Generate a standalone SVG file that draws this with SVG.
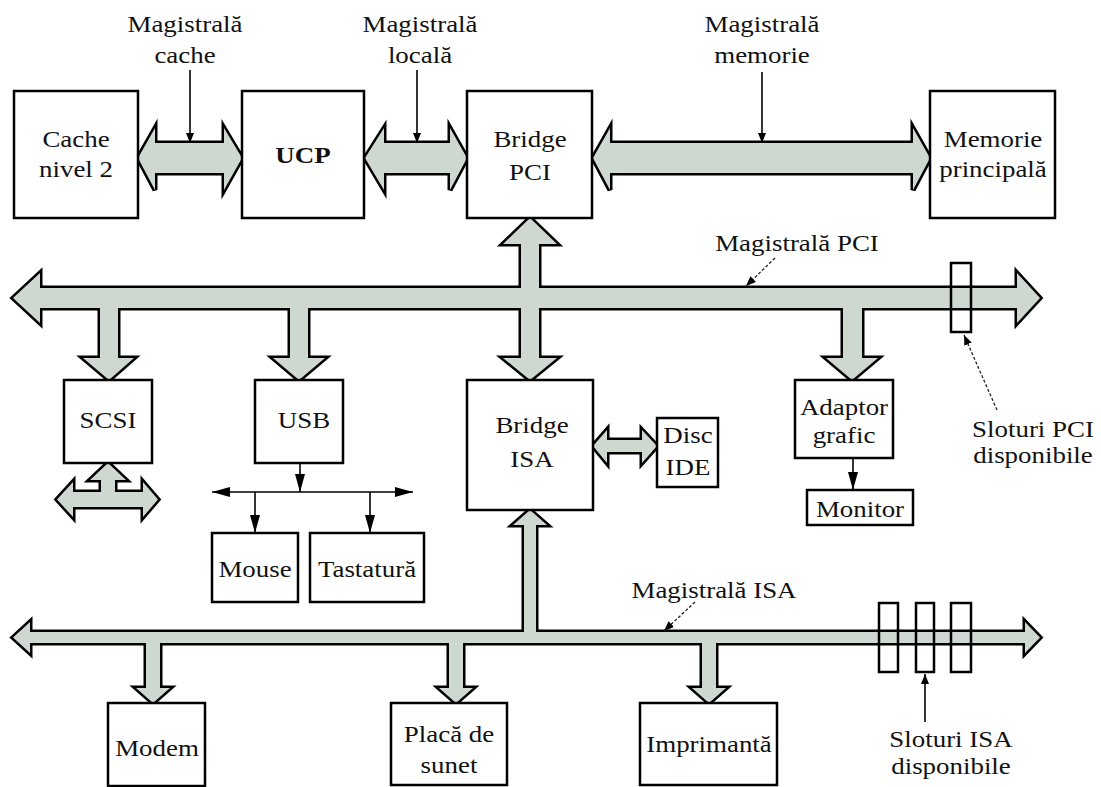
<svg xmlns="http://www.w3.org/2000/svg" xmlns:xlink="http://www.w3.org/1999/xlink" width="1101" height="787" viewBox="0 0 1101 787">
<style>
.box{fill:#fff;stroke:#000;stroke-width:2.5}
.slot{fill:none;stroke:#000;stroke-width:2.5}
.t{font-family:"Liberation Serif","Times New Roman",serif;font-size:23px;fill:#111;text-anchor:middle}
.b{font-weight:bold}
.under{fill:#000;stroke:#000;stroke-width:5;stroke-linejoin:miter}
.over{fill:#cfd8d0;stroke:none}
.ptr{stroke:#000;stroke-width:1.6;fill:none}
.dash{stroke:#222;stroke-width:1.3;fill:none;stroke-dasharray:3 2}
</style>
<defs>
<marker id="ah" viewBox="0 0 10 8" refX="10" refY="4" markerWidth="10" markerHeight="8" orient="auto" markerUnits="userSpaceOnUse"><path d="M0,0 L10,4 L0,8 z" fill="#000"/></marker>
<marker id="ah2" viewBox="0 0 18 10" refX="18" refY="5" markerWidth="18" markerHeight="10" orient="auto-start-reverse" markerUnits="userSpaceOnUse"><path d="M0,0 L18,5 L0,10 z" fill="#000"/></marker>
<path id="busCache" d="M138,158 L155,128 L155,143 L224,143 L224,128 L242,158 L224,190 L224,173 L155,173 L155,190 Z"/>
<path id="busLocal" d="M365,158 L384,128 L384,143 L450,143 L450,128 L467,158 L450,190 L450,173 L384,173 L384,190 Z"/>
<path id="busMem" d="M593,158 L610,128 L610,143 L913,143 L913,128 L930,158 L913,190 L913,173 L610,173 L610,190 Z"/>
<path id="busPCI" d="M13,298 L40,273 L40,288 L1017,288 L1017,273 L1040,298 L1017,323 L1017,308 L40,308 L40,323 Z
 M100,298 L118,298 L118,358 L134,358 L109,380 L83,358 L100,358 Z
 M290,298 L308,298 L308,358 L325,358 L299,380 L273,358 L290,358 Z
 M530,218 L557,244 L539,244 L539,358 L557,358 L530,380 L503,358 L521,358 L521,244 L503,244 Z
 M843,298 L862,298 L862,358 L878,358 L852,380 L826,358 L843,358 Z"/>
<path id="busISA" d="M13,637.5 L30,622 L30,632 L1025,632 L1025,622 L1040,637.5 L1025,653 L1025,643 L30,643 L30,653 Z
 M530,510 L547,525 L536,525 L536,637 L524,637 L524,525 L513,525 Z
 M146,637 L160,637 L160,688 L170,688 L153,703 L136,688 L146,688 Z
 M449,637 L463,637 L463,688 L473,688 L456,703 L439,688 L449,688 Z
 M702,637 L716,637 L716,688 L726,688 L709,703 L692,688 L702,688 Z"/>
<path id="busSCSI" d="M57,499.5 L73,482 L73,492 L143,492 L143,482 L158,499.5 L143,517 L143,507 L73,507 L73,517 Z
 M108,463 L126,480 L115,480 L115,499 L101,499 L101,480 L90,480 Z"/>
<path id="busIDE" d="M593,446 L607,430 L607,440 L642,440 L642,430 L657,446 L642,463 L642,452 L607,452 L607,463 Z"/>
</defs>
<rect width="1101" height="787" fill="#fff"/>
<g id="connectors">
<g id="bus-outlines" class="under">
<use xlink:href="#busCache"/><use xlink:href="#busLocal"/><use xlink:href="#busMem"/><use xlink:href="#busPCI"/><use xlink:href="#busISA"/><use xlink:href="#busSCSI"/><use xlink:href="#busIDE"/>
</g>
<g id="bus-fills" class="over">
<use xlink:href="#busCache"/><use xlink:href="#busLocal"/><use xlink:href="#busMem"/><use xlink:href="#busPCI"/><use xlink:href="#busISA"/><use xlink:href="#busSCSI"/><use xlink:href="#busIDE"/>
</g>
<line class="ptr" x1="190" y1="70" x2="190" y2="143" marker-end="url(#ah)"/>
<line class="ptr" x1="417" y1="70" x2="417" y2="143" marker-end="url(#ah)"/>
<line class="ptr" x1="762" y1="72" x2="762" y2="143" marker-end="url(#ah)"/>
<line class="dash" x1="775" y1="258" x2="746" y2="286" marker-end="url(#ah)"/>
<line class="dash" x1="695" y1="602" x2="664" y2="631" marker-end="url(#ah)"/>
<line class="dash" x1="997" y1="410" x2="964" y2="335" marker-end="url(#ah)"/>
<line class="ptr" x1="925" y1="722" x2="925" y2="674" marker-end="url(#ah)"/>
<line class="ptr" x1="853" y1="458" x2="853" y2="490" marker-end="url(#ah2)"/>
<line class="ptr" x1="300" y1="463" x2="300" y2="492" marker-end="url(#ah2)"/>
<line class="ptr" x1="212" y1="492" x2="413" y2="492" marker-start="url(#ah2)" marker-end="url(#ah2)"/>
<line class="ptr" x1="255" y1="492" x2="255" y2="533" marker-end="url(#ah2)"/>
<line class="ptr" x1="370" y1="492" x2="370" y2="533" marker-end="url(#ah2)"/>
</g>
<g id="slots-pci"><rect class="slot" x="951" y="263" width="20" height="69"/></g>
<g id="slots-isa">
<rect class="slot" x="879" y="603" width="19" height="69"/>
<rect class="slot" x="916" y="603" width="18" height="69"/>
<rect class="slot" x="951" y="603" width="20" height="69"/>
</g>
<g id="labels">
<text class="t" transform="translate(185,32) scale(1.17,1)"><tspan x="0">Magistrală</tspan><tspan x="0" dy="31">cache</tspan></text>
<text class="t" transform="translate(420,32) scale(1.17,1)"><tspan x="0">Magistrală</tspan><tspan x="0" dy="31">locală</tspan></text>
<text class="t" transform="translate(762,32) scale(1.17,1)"><tspan x="0">Magistrală</tspan><tspan x="0" dy="31">memorie</tspan></text>
<text class="t" transform="translate(797,251) scale(1.17,1)">Magistrală PCI</text>
<text class="t" transform="translate(714,598) scale(1.17,1)">Magistrală ISA</text>
<text class="t" transform="translate(1033,437) scale(1.17,1)"><tspan x="0">Sloturi PCI</tspan><tspan x="0" dy="26">disponibile</tspan></text>
<text class="t" transform="translate(951,747) scale(1.17,1)"><tspan x="0">Sloturi ISA</tspan><tspan x="0" dy="27">disponibile</tspan></text>
</g>
<g id="cache"><rect class="box" x="14" y="91" width="124" height="127"/><text class="t" transform="translate(76,147) scale(1.17,1)"><tspan x="0">Cache</tspan><tspan x="0" dy="30">nivel 2</tspan></text></g>
<g id="ucp"><rect class="box" x="242" y="91" width="122" height="127"/><text class="t b" transform="translate(303,163) scale(1.17,1)">UCP</text></g>
<g id="bridge-pci"><rect class="box" x="467" y="91" width="125" height="127"/><text class="t" transform="translate(530,147) scale(1.17,1)"><tspan x="0">Bridge</tspan><tspan x="0" dy="33">PCI</tspan></text></g>
<g id="memorie"><rect class="box" x="930" y="91" width="125" height="127"/><text class="t" transform="translate(993,147) scale(1.17,1)"><tspan x="0">Memorie</tspan><tspan x="0" dy="30">principală</tspan></text></g>
<g id="scsi"><rect class="box" x="64" y="380" width="88" height="83"/><text class="t" transform="translate(108,428) scale(1.17,1)">SCSI</text></g>
<g id="usb"><rect class="box" x="255" y="380" width="88" height="83"/><text class="t" transform="translate(304,428) scale(1.17,1)">USB</text></g>
<g id="bridge-isa"><rect class="box" x="467" y="380" width="126" height="130"/><text class="t" transform="translate(532,433) scale(1.17,1)"><tspan x="0">Bridge</tspan><tspan x="0" dy="34">ISA</tspan></text></g>
<g id="disc-ide"><rect class="box" x="657" y="418" width="61" height="69"/><text class="t" transform="translate(688,443) scale(1.17,1)"><tspan x="0">Disc</tspan><tspan x="0" dy="32">IDE</tspan></text></g>
<g id="adaptor"><rect class="box" x="795" y="380" width="98" height="78"/><text class="t" transform="translate(844,415) scale(1.17,1)"><tspan x="0">Adaptor</tspan><tspan x="0" dy="28">grafic</tspan></text></g>
<g id="monitor"><rect class="box" x="807" y="490" width="106" height="35"/><text class="t" transform="translate(860,517) scale(1.17,1)">Monitor</text></g>
<g id="mouse"><rect class="box" x="212" y="533" width="86" height="69"/><text class="t" transform="translate(255,577) scale(1.17,1)">Mouse</text></g>
<g id="tastatura"><rect class="box" x="310" y="533" width="114" height="69"/><text class="t" transform="translate(367,577) scale(1.17,1)">Tastatură</text></g>
<g id="modem"><rect class="box" x="108" y="703" width="97" height="83"/><text class="t" transform="translate(157,756) scale(1.17,1)">Modem</text></g>
<g id="placa"><rect class="box" x="391" y="703" width="116" height="82"/><text class="t" transform="translate(449,742) scale(1.17,1)"><tspan x="0">Placă de</tspan><tspan x="0" dy="31">sunet</tspan></text></g>
<g id="imprimanta"><rect class="box" x="640" y="703" width="137" height="82"/><text class="t" transform="translate(709,752) scale(1.17,1)">Imprimantă</text></g>
</svg>
